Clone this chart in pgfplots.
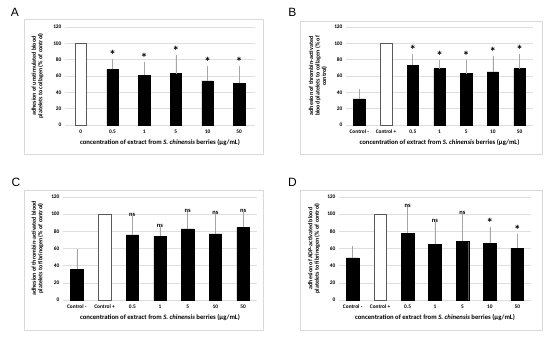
\documentclass[border=0pt]{standalone}
\usepackage{pgfplots}
\pgfplotsset{compat=1.18}
\usepackage{pgfplotstable}
\usepackage{fontspec}
\setmainfont{Carlito}
\newfontfamily\letterfont{Liberation Sans}

% Panel A (x: 0=control, 1..5 = 0.5,1,5,10,50)
\pgfplotstableread{
x y e
1 68 11
2 61 14.5
3 63 21.5
4 54 16.5
5 51 20
}\dataA
\pgfplotstableread{
x y lab
1 79 *
2 75.5 *
3 84.5 *
4 70.5 *
5 71 *
}\annA
% Panel B (x: 0=Control-, 1=Control+, 2..6)
\pgfplotstableread{
x y e
0 32 11
2 73 13
3 69 9
4 63 15
5 65 18
6 69 17
}\dataB
\pgfplotstableread{
x y lab
2 86 *
3 78 *
4 78 *
5 83 *
6 86 *
}\annB
% Panel C
\pgfplotstableread{
x y e
0 36 22
2 76 20
3 74 10
4 83 18
5 77 22
6 85 16
}\dataC
\pgfplotstableread{
x y lab
2 96 ns
3 84 ns
4 101 ns
5 99 ns
6 101 ns
}\annC
% Panel D
\pgfplotstableread{
x y e
0 49 13
2 78 29
3 65 25
4 68.5 30
5 66 18
6 60.5 15
}\dataD
\pgfplotstableread{
x y lab
2 107 ns
3 90 ns
4 98.5 ns
}\annDns
\pgfplotstableread{
x y lab
5 84 *
6 75.5 *
}\annDst

\pgfplotsset{
  panel/.style={
    scale only axis, ymin=0, ymax=120, ytick={0,20,...,120},
    ymajorgrids, grid style={black!13, line width=0.5pt},
    axis line style={draw=none}, major tick length=0pt,
    tick label style={font=\fontsize{5.4}{5.8}\selectfont\bfseries},
    /pgf/number format/assume math mode=true,
    xlabel style={font=\fontsize{6.7}{7}\selectfont\bfseries},
    ylabel style={font=\fontsize{6}{6.6}\selectfont\bfseries, align=center},
    xlabel={concentration of extract from \textit{S. chinensis} berries (µg/mL)},
    xlabel style={at={(axis description cs:0.5,0)}, anchor=center, yshift=-17.5pt},
    xticklabel style={yshift=-1pt},
    clip=false,
  },
  blackbar/.style={ybar, bar shift=0pt, bar width=#1, fill=black, draw=black,
    error bars/y dir=plus, error bars/y explicit,
    error bars/error bar style={black!35, line width=0.6pt},
    error bars/error mark options={black!35, line width=0.6pt, mark size=1.2pt}},
  whitebar/.style={ybar, bar shift=0pt, bar width=#1, fill=white, draw=black!65, line width=0.5pt},
  ann/.style={only marks, mark=text, text mark={},
    nodes near coords, point meta=explicit symbolic,
    nodes near coords style={anchor=south, inner sep=0.5pt, font=#1}},
}

\begin{document}
\begin{tikzpicture}
\path[use as bounding box, fill=white] (0,0) rectangle (550pt,-337pt);
\draw[black!15, line width=0.5pt] (24pt,-19pt) rectangle (263pt,-154pt);
\draw[black!15, line width=0.5pt] (300pt,-21pt) rectangle (542pt,-154pt);
\draw[black!15, line width=0.5pt] (24pt,-190pt) rectangle (263pt,-330pt);
\draw[black!15, line width=0.5pt] (300pt,-190pt) rectangle (542pt,-330pt);
\node[font=\letterfont\fontsize{12}{12}\selectfont] at (15pt,-12.5pt) {A};
\node[font=\letterfont\fontsize{12}{12}\selectfont] at (292.5pt,-12.5pt) {B};
\node[font=\letterfont\fontsize{12}{12}\selectfont] at (16pt,-182pt) {C};
\node[font=\letterfont\fontsize{12}{12}\selectfont] at (292.5pt,-182pt) {D};

% A
\begin{axis}[panel, at={(65pt,-125pt)}, anchor=south west, width=190pt, height=98pt,
  xmin=-0.5, xmax=5.5, xtick={0,...,5}, xticklabels={0,0.5,1,5,10,50},
  ylabel={adhesion of unstimulated blood\\platelets to collagen (\% of control)},
  ylabel style={at={(axis description cs:-0.145,0.5)}, anchor=center}]
\addplot[whitebar=0.36] coordinates {(0,100)};
\addplot[blackbar=0.36] table[x=x, y=y, y error=e] {\dataA};
\addplot[ann=\fontsize{13}{13}\selectfont\bfseries] table[x=x, y=y, meta=lab] {\annA};
\end{axis}

% B
\begin{axis}[panel, at={(346pt,-125pt)}, anchor=south west, width=187pt, height=98pt,
  xmin=-0.5, xmax=6.5, xtick={0,...,6}, xticklabels={Control -,Control +,0.5,1,5,10,50},
  ylabel={adhesion of thrombin-activated\\blood platelets to collagen (\% of\\control)},
  ylabel style={at={(axis description cs:-0.15,0.5)}, anchor=center}]
\addplot[whitebar=0.43] coordinates {(1,100)};
\addplot[blackbar=0.43] table[x=x, y=y, y error=e] {\dataB};
\addplot[ann=\fontsize{13}{13}\selectfont\bfseries] table[x=x, y=y, meta=lab] {\annB};
\end{axis}

% C
\begin{axis}[panel, at={(63pt,-300pt)}, anchor=south west, width=194pt, height=103pt,
  xmin=-0.5, xmax=6.5, xtick={0,...,6}, xticklabels={Control -,Control +,0.5,1,5,10,50},
  ylabel={adhesion of thrombin-activated blood\\platelets to fibrinogen (\% of control)},
  ylabel style={at={(axis description cs:-0.131,0.5)}, anchor=center}]
\addplot[whitebar=0.45] coordinates {(1,100)};
\addplot[blackbar=0.45] table[x=x, y=y, y error=e] {\dataC};
\addplot[ann=\fontsize{6.5}{7}\selectfont\bfseries] table[x=x, y=y, meta=lab] {\annC};
\end{axis}

% D
\begin{axis}[panel, at={(339pt,-300pt)}, anchor=south west, width=192pt, height=103pt,
  xmin=-0.5, xmax=6.5, xtick={0,...,6}, xticklabels={Control -,Control +,0.5,1,5,10,50},
  ylabel={adhesion of ADP-activated blood\\platelets to fibrinogen (\% of control)},
  ylabel style={at={(axis description cs:-0.13,0.5)}, anchor=center}]
\addplot[whitebar=0.46] coordinates {(1,100)};
\addplot[blackbar=0.46] table[x=x, y=y, y error=e] {\dataD};
\addplot[ann=\fontsize{6.5}{7}\selectfont\bfseries] table[x=x, y=y, meta=lab] {\annDns};
\addplot[ann=\fontsize{13}{13}\selectfont\bfseries] table[x=x, y=y, meta=lab] {\annDst};
\end{axis}
\end{tikzpicture}
\end{document}
